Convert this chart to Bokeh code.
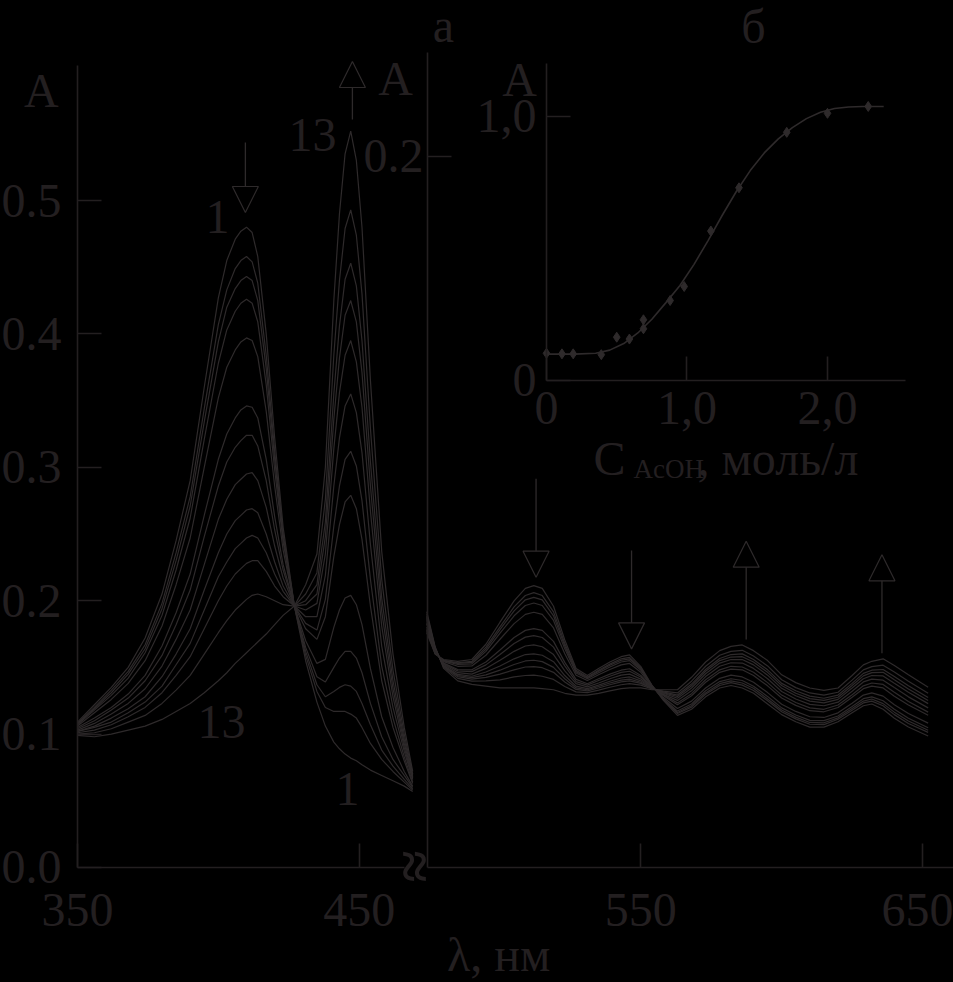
from bokeh.plotting import figure
from bokeh.models import (Range1d, LinearAxis, FixedTicker, PrintfTickFormatter, Arrow,
                          NormalHead, GlobalInlineStyleSheet)
from bokeh.core.properties import value
from bokeh.embed import file_html
from bokeh.resources import INLINE

# ---------------- data ----------------
# panel "а", left part: wavelength, nm and absorbance of spectra 1..13
WL_L = [350, 356, 362, 368, 374, 380, 385, 390, 395, 400, 403, 406, 408, 410, 412, 414, 417,
        420, 423, 427, 431, 435, 438, 441, 443, 445, 447, 449, 451, 454, 458, 462, 466, 469]
A_L1 = [0.109, 0.122, 0.135, 0.150, 0.172, 0.205, 0.245, 0.290, 0.360, 0.427, 0.455, 0.471, 0.477, 0.480, 0.476, 0.458, 0.400,
        0.322, 0.255, 0.196, 0.155, 0.124, 0.106, 0.094, 0.089, 0.085, 0.082, 0.080, 0.077, 0.073, 0.069, 0.065, 0.061, 0.057]
A_L2 = [0.108, 0.120, 0.133, 0.147, 0.167, 0.198, 0.236, 0.278, 0.344, 0.407, 0.433, 0.449, 0.455, 0.458, 0.454, 0.438, 0.384,
        0.312, 0.250, 0.196, 0.159, 0.132, 0.120, 0.117, 0.117, 0.117, 0.115, 0.112, 0.105, 0.093, 0.081, 0.072, 0.064, 0.058]
A_L3 = [0.108, 0.119, 0.131, 0.145, 0.164, 0.194, 0.230, 0.271, 0.334, 0.394, 0.420, 0.434, 0.440, 0.443, 0.440, 0.425, 0.374,
        0.306, 0.247, 0.196, 0.162, 0.137, 0.128, 0.132, 0.135, 0.137, 0.136, 0.132, 0.123, 0.107, 0.088, 0.076, 0.066, 0.059]
A_L4 = [0.107, 0.118, 0.129, 0.142, 0.161, 0.189, 0.223, 0.262, 0.321, 0.378, 0.403, 0.417, 0.423, 0.426, 0.423, 0.409, 0.362,
        0.298, 0.244, 0.196, 0.165, 0.143, 0.139, 0.150, 0.157, 0.162, 0.162, 0.157, 0.146, 0.123, 0.098, 0.081, 0.069, 0.060]
A_L5 = [0.106, 0.116, 0.126, 0.138, 0.155, 0.181, 0.212, 0.247, 0.300, 0.352, 0.375, 0.388, 0.394, 0.397, 0.395, 0.383, 0.342,
        0.286, 0.238, 0.196, 0.170, 0.153, 0.156, 0.180, 0.193, 0.202, 0.204, 0.197, 0.182, 0.149, 0.113, 0.090, 0.072, 0.061]
A_L6 = [0.105, 0.112, 0.120, 0.130, 0.144, 0.166, 0.191, 0.220, 0.264, 0.306, 0.325, 0.337, 0.343, 0.346, 0.345, 0.337, 0.306,
        0.263, 0.227, 0.196, 0.179, 0.171, 0.188, 0.233, 0.257, 0.274, 0.279, 0.269, 0.246, 0.196, 0.140, 0.105, 0.080, 0.063]
A_L7 = [0.104, 0.110, 0.118, 0.127, 0.140, 0.159, 0.182, 0.208, 0.248, 0.286, 0.304, 0.315, 0.320, 0.324, 0.324, 0.316, 0.290,
        0.253, 0.223, 0.196, 0.183, 0.178, 0.201, 0.256, 0.286, 0.306, 0.312, 0.301, 0.275, 0.216, 0.151, 0.112, 0.083, 0.064]
A_L8 = [0.103, 0.108, 0.115, 0.123, 0.134, 0.151, 0.171, 0.193, 0.227, 0.261, 0.276, 0.287, 0.291, 0.295, 0.296, 0.290, 0.270,
        0.241, 0.217, 0.196, 0.188, 0.188, 0.219, 0.286, 0.322, 0.346, 0.355, 0.341, 0.311, 0.242, 0.166, 0.120, 0.087, 0.066]
A_L9 = [0.102, 0.106, 0.112, 0.119, 0.128, 0.143, 0.160, 0.179, 0.208, 0.236, 0.250, 0.260, 0.264, 0.268, 0.269, 0.266, 0.250,
        0.229, 0.211, 0.196, 0.193, 0.198, 0.235, 0.314, 0.356, 0.384, 0.395, 0.379, 0.345, 0.267, 0.181, 0.128, 0.090, 0.067]
A_L10 = [0.102, 0.105, 0.109, 0.116, 0.124, 0.136, 0.152, 0.168, 0.193, 0.218, 0.229, 0.239, 0.243, 0.247, 0.249, 0.247, 0.236,
         0.220, 0.207, 0.196, 0.197, 0.205, 0.248, 0.336, 0.382, 0.414, 0.425, 0.409, 0.371, 0.286, 0.192, 0.134, 0.093, 0.068]
A_L11 = [0.101, 0.103, 0.107, 0.113, 0.120, 0.131, 0.144, 0.158, 0.179, 0.200, 0.211, 0.220, 0.224, 0.228, 0.230, 0.230, 0.222,
         0.211, 0.203, 0.196, 0.200, 0.212, 0.259, 0.355, 0.406, 0.441, 0.453, 0.436, 0.395, 0.304, 0.202, 0.140, 0.096, 0.069]
A_L12 = [0.100, 0.101, 0.104, 0.109, 0.114, 0.123, 0.133, 0.144, 0.160, 0.176, 0.185, 0.193, 0.197, 0.201, 0.204, 0.205, 0.203,
         0.200, 0.197, 0.196, 0.205, 0.221, 0.276, 0.384, 0.440, 0.479, 0.493, 0.474, 0.430, 0.329, 0.216, 0.148, 0.100, 0.070]
A_L13 = [0.099, 0.098, 0.100, 0.103, 0.106, 0.111, 0.117, 0.123, 0.131, 0.140, 0.146, 0.153, 0.157, 0.161, 0.165, 0.169, 0.175,
         0.182, 0.189, 0.196, 0.212, 0.235, 0.300, 0.425, 0.490, 0.535, 0.552, 0.530, 0.480, 0.365, 0.237, 0.160, 0.105, 0.072]

# panel "а", right part (own absorbance scale)
WL_R = [474, 477, 480, 485, 490, 495, 500, 505, 509, 512, 515, 519, 523, 527, 531, 535, 539, 543, 546, 550, 554,
        558, 563, 568, 573, 578, 582, 586, 590, 595, 600, 605, 610, 615, 620, 625, 629, 632, 636, 640, 645, 652]
A_R1 = [.0660, .0600, .0585, .0580, .0585, .0628, .0690, .0750, .0785, .0793, .0785, .0735, .0640, .0560, .0540, .0560, .0578, .0593, .0598, .0565, .0512,
        .0470, .0428, .0445, .0480, .0505, .0512, .0505, .0490, .0460, .0430, .0410, .0395, .0395, .0410, .0435, .0455, .0460, .0445, .0420, .0395, .0370]
A_R2 = [.0664, .0601, .0583, .0576, .0580, .0620, .0677, .0733, .0765, .0773, .0765, .0719, .0630, .0555, .0536, .0555, .0572, .0587, .0591, .0561, .0511,
        .0472, .0433, .0451, .0487, .0512, .0520, .0513, .0498, .0469, .0438, .0418, .0403, .0402, .0417, .0442, .0463, .0468, .0455, .0430, .0405, .0380]
A_R3 = [.0667, .0602, .0582, .0574, .0577, .0614, .0669, .0722, .0753, .0760, .0753, .0708, .0623, .0551, .0534, .0552, .0569, .0583, .0587, .0558, .0511,
        .0473, .0436, .0455, .0491, .0517, .0525, .0519, .0504, .0474, .0443, .0423, .0408, .0407, .0421, .0447, .0468, .0474, .0461, .0437, .0412, .0386]
A_R4 = [.0670, .0603, .0581, .0571, .0573, .0608, .0659, .0708, .0737, .0744, .0737, .0695, .0615, .0547, .0531, .0548, .0564, .0578, .0582, .0555, .0510,
        .0475, .0440, .0460, .0497, .0523, .0531, .0526, .0510, .0481, .0449, .0429, .0414, .0413, .0426, .0453, .0475, .0480, .0469, .0445, .0420, .0393]
A_R5 = [.0676, .0605, .0579, .0566, .0567, .0597, .0642, .0686, .0712, .0718, .0712, .0674, .0601, .0541, .0526, .0542, .0557, .0570, .0574, .0549, .0509,
        .0478, .0447, .0468, .0505, .0532, .0541, .0536, .0521, .0492, .0459, .0439, .0424, .0422, .0435, .0462, .0485, .0491, .0482, .0458, .0433, .0406]
A_R6 = [.0685, .0608, .0575, .0557, .0556, .0578, .0612, .0647, .0667, .0672, .0667, .0636, .0577, .0529, .0517, .0531, .0544, .0555, .0559, .0540, .0507,
        .0483, .0458, .0483, .0521, .0549, .0558, .0556, .0540, .0511, .0477, .0456, .0441, .0438, .0450, .0479, .0503, .0510, .0505, .0482, .0457, .0428]
A_R7 = [.0689, .0610, .0573, .0553, .0551, .0570, .0599, .0630, .0648, .0652, .0647, .0620, .0567, .0523, .0513, .0526, .0538, .0549, .0552, .0536, .0506,
        .0485, .0463, .0489, .0528, .0556, .0566, .0564, .0549, .0520, .0485, .0464, .0449, .0445, .0457, .0486, .0511, .0519, .0515, .0493, .0467, .0437]
A_R8 = [.0695, .0612, .0571, .0548, .0544, .0560, .0583, .0608, .0623, .0626, .0621, .0599, .0553, .0517, .0508, .0519, .0531, .0541, .0544, .0530, .0505,
        .0487, .0470, .0497, .0537, .0566, .0576, .0575, .0560, .0531, .0495, .0474, .0459, .0455, .0465, .0496, .0522, .0530, .0527, .0506, .0480, .0449]
A_R9 = [.0700, .0613, .0568, .0543, .0538, .0550, .0567, .0587, .0599, .0601, .0597, .0579, .0540, .0510, .0503, .0513, .0524, .0533, .0536, .0525, .0504,
        .0490, .0476, .0505, .0545, .0575, .0585, .0585, .0570, .0541, .0504, .0483, .0468, .0463, .0473, .0505, .0531, .0540, .0539, .0518, .0493, .0461]
A_R10 = [.0704, .0615, .0567, .0540, .0534, .0542, .0555, .0571, .0581, .0583, .0579, .0563, .0531, .0505, .0500, .0509, .0519, .0527, .0530, .0521, .0503,
         .0492, .0481, .0511, .0552, .0582, .0592, .0593, .0578, .0549, .0512, .0490, .0475, .0470, .0479, .0512, .0539, .0548, .0549, .0528, .0502, .0470]
A_R11 = [.0707, .0616, .0565, .0537, .0530, .0535, .0544, .0556, .0564, .0565, .0562, .0549, .0522, .0501, .0497, .0505, .0514, .0522, .0525, .0518, .0503,
         .0494, .0485, .0516, .0557, .0588, .0599, .0601, .0585, .0556, .0518, .0497, .0482, .0476, .0485, .0518, .0546, .0555, .0557, .0537, .0511, .0478]
A_R12 = [.0713, .0618, .0563, .0532, .0524, .0525, .0528, .0536, .0540, .0541, .0538, .0529, .0509, .0494, .0492, .0499, .0507, .0514, .0517, .0513, .0502,
         .0496, .0491, .0524, .0566, .0597, .0608, .0611, .0595, .0567, .0528, .0506, .0491, .0485, .0493, .0527, .0556, .0565, .0569, .0550, .0524, .0490]
A_R13 = [.0720, .0620, .0560, .0525, .0515, .0510, .0505, .0505, .0505, .0505, .0503, .0500, .0490, .0485, .0485, .0490, .0497, .0503, .0505, .0505, .0500,
         .0500, .0500, .0535, .0578, .0610, .0622, .0626, .0610, .0582, .0542, .0520, .0505, .0498, .0505, .0540, .0570, .0580, .0587, .0568, .0542, .0507]

# inset "б": absorbance vs C(AcOH), mol/l
C_FIT = [0.0, 0.2, 0.35, 0.45, 0.55, 0.65, 0.75, 0.85, 0.95, 1.05, 1.15, 1.25, 1.35, 1.45, 1.55, 1.65,
         1.75, 1.85, 1.95, 2.05, 2.15, 2.25, 2.40]
A_FIT = [0.100, 0.100, 0.103, 0.115, 0.140, 0.180, 0.232, 0.295, 0.360, 0.440, 0.530, 0.625, 0.715, 0.795, 0.862, 0.915,
         0.958, 0.992, 1.016, 1.030, 1.036, 1.038, 1.038]
C_PTS = [0.0, 0.11, 0.19, 0.39, 0.50, 0.59, 0.69, 0.69, 0.88, 0.98, 1.17, 1.37, 1.71, 2.00, 2.29]
A_PTS = [0.103, 0.101, 0.101, 0.098, 0.164, 0.157, 0.230, 0.196, 0.303, 0.356, 0.566, 0.730, 0.940, 1.012, 1.038]

# tick values
TICKS_Y_LEFT = [0.0, 0.1, 0.2, 0.3, 0.4, 0.5]
TICKS_Y_RIGHT = [0.2]
TICKS_X_LEFT = [350, 450]
TICKS_X_RIGHT = [550, 650]
TICKS_INSET_X = [0.0, 1.0, 2.0]
TICKS_INSET_Y = [0.0, 1.0]
INSET_X_LABELS = {0.0: "0", 1.0: "1,0", 2.0: "2,0"}
INSET_Y_LABELS = {0.0: "0", 1.0: "1,0"}

# ---------------- styling ----------------
INK = "#231f20"
LINE = "#2e2a2b"
FONT = "Liberation Serif"
FS = "48px"

p = figure(width=953, height=982,
           x_range=Range1d(322.663, 661.0), y_range=Range1d(-0.08621, 0.64993),
           x_axis_location=None, y_axis_location=None,
           toolbar_location=None, output_backend="svg", min_border=0,
           background_fill_color="black", border_fill_color="black", outline_line_color=None)
p.extra_y_ranges = {"yr": Range1d(-0.03235, 0.24388), "yi": Range1d(-2.2803, 1.43939)}
p.extra_x_ranges = {"xi": Range1d(-3.8861, 2.8968)}
p.grid.visible = False
p.stylesheets = [GlobalInlineStyleSheet(css="html, body { background: #000000; }")]


def add_axis(side, ticks, fixed, bounds, standoff, xr="default", yr="default",
             formatter=None, overrides=None):
    ax = LinearAxis(fixed_location=fixed, bounds=bounds,
                    ticker=FixedTicker(ticks=ticks, minor_ticks=[]),
                    x_range_name=xr, y_range_name=yr,
                    major_tick_in=24, major_tick_out=0, minor_tick_in=0, minor_tick_out=0,
                    axis_line_color=INK, axis_line_width=1.6,
                    major_tick_line_color=INK, major_tick_line_width=1.6,
                    major_label_text_font=FONT, major_label_text_font_size=FS,
                    major_label_text_color=INK, major_label_standoff=standoff)
    if formatter is not None:
        ax.formatter = formatter
    if overrides is not None:
        ax.major_label_overrides = overrides
    p.add_layout(ax, side)
    return ax


# left panel axes
add_axis("left", TICKS_Y_LEFT, 350, (0, 0.6012), 16, formatter=PrintfTickFormatter(format="%.1f"))
add_axis("below", TICKS_X_LEFT, 0, (350, 466.1), 27)
# right panel axes
add_axis("left", TICKS_Y_RIGHT, 474.3, (0, 0.2293), 4, yr="yr", formatter=PrintfTickFormatter(format="%.1f"))
add_axis("below", TICKS_X_RIGHT, 0, (474.3, 661.0), 27)
# inset axes
add_axis("left", TICKS_INSET_Y, 0, (0, 1.2008), 10, xr="xi", yr="yi", overrides=INSET_Y_LABELS)
add_axis("below", TICKS_INSET_X, 0, (0, 2.555), 12, xr="xi", yr="yi", overrides=INSET_X_LABELS)

# spectra
left_sets = [A_L1, A_L2, A_L3, A_L4, A_L5, A_L6, A_L7, A_L8, A_L9, A_L10, A_L11, A_L12, A_L13]
right_sets = [A_R1, A_R2, A_R3, A_R4, A_R5, A_R6, A_R7, A_R8, A_R9, A_R10, A_R11, A_R12, A_R13]
p.multi_line(xs=[WL_L] * len(left_sets), ys=left_sets, line_color=LINE, line_width=1.2)
p.multi_line(xs=[WL_R] * len(right_sets), ys=right_sets, line_color=LINE, line_width=1.2,
             y_range_name="yr")

# inset curve and points
p.line(C_FIT, A_FIT, line_color=LINE, line_width=1.6, x_range_name="xi", y_range_name="yi")
p.scatter(C_PTS, A_PTS, marker="diamond", size=10, fill_color=LINE, line_color=LINE,
          x_range_name="xi", y_range_name="yi")

# arrows (nm, left absorbance scale)
for xs, ys, xe, ye in [(409.6, 0.5435, 409.6, 0.491), (447.6, 0.5607, 447.6, 0.6042),
                       (512.8, 0.2914, 512.8, 0.2176), (546.7, 0.2376, 546.7, 0.1639),
                       (587.4, 0.1709, 587.4, 0.2446), (635.6, 0.1606, 635.6, 0.2344)]:
    p.add_layout(Arrow(end=NormalHead(size=26, fill_color="black", line_color=LINE, line_width=1.2),
                       x_start=xs, y_start=ys, x_end=xe, y_end=ye,
                       line_color=LINE, line_width=1.3))

# texts in the main coordinates
p.text(x=[479.9, 590.0, 337.2, 462.9, 433.4, 399.7, 401.1, 445.9, 499.5],
       y=[0.6312, 0.6304, 0.5824, 0.5914, 0.5494, 0.4880, 0.1094, 0.0592, -0.0653],
       text=["а", "б", "A", "A", "13", "1", "13", "1", "λ, нм"],
       text_font=value(FONT), text_font_size=FS, text_color=INK,
       text_align="center", text_baseline="alphabetic")
# axis break mark
p.text(x=[469.6], y=[0.0008], text=["≈"], angle=1.5708,
       text_font=value(FONT), text_font_size="58px", text_font_style="bold", text_color=INK,
       text_align="center", text_baseline="middle")

# inset texts
p.text(x=[-0.192], y=[1.1402], text=["A"], text_font=value(FONT), text_font_size=FS,
       text_color=INK, text_align="center", text_baseline="alphabetic",
       x_range_name="xi", y_range_name="yi")
p.text(x=[0.3345, 1.0747], y=[-0.2954, -0.2954], text=["C", ", моль/л"],
       text_font=value(FONT), text_font_size=FS, text_color=INK,
       text_align="left", text_baseline="alphabetic", x_range_name="xi", y_range_name="yi")
p.text(x=[0.6192], y=[-0.3371], text=["AcOH"], text_font=value(FONT), text_font_size="27px",
       text_color=INK, text_align="left", text_baseline="alphabetic",
       x_range_name="xi", y_range_name="yi")

open("out.html", "w").write(file_html(p, INLINE))
